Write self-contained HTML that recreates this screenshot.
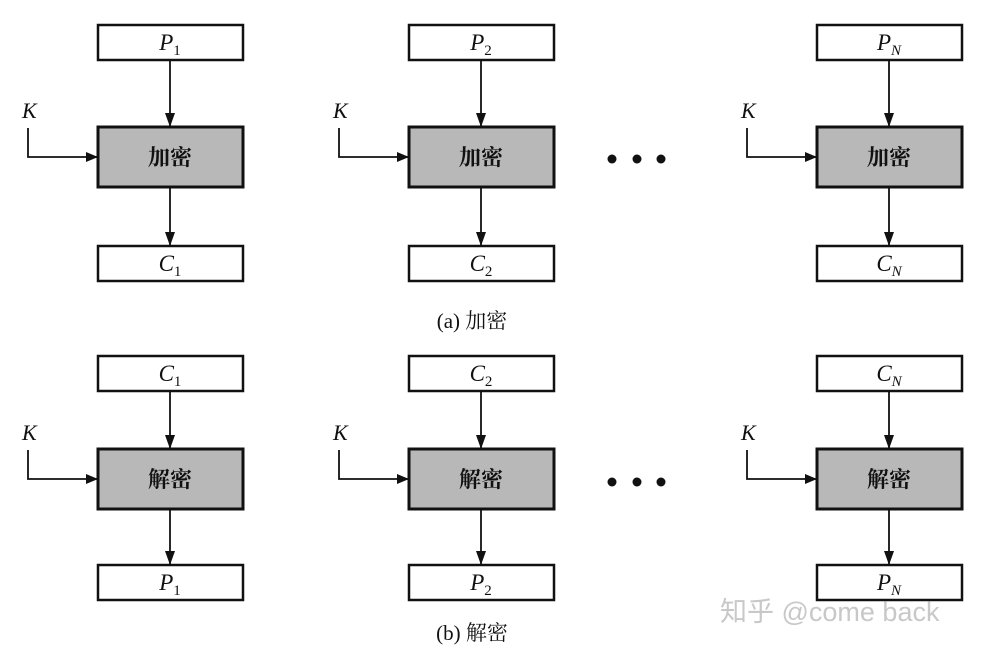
<!DOCTYPE html>
<html><head><meta charset="utf-8"><style>
body{margin:0;background:#fff}
svg text{font-family:"Liberation Serif","Noto Serif CJK SC",serif;fill:#111}
.i{font-style:italic}
</style></head><body>
<svg width="985" height="652" viewBox="0 0 985 652" xmlns="http://www.w3.org/2000/svg">
<defs><marker id="a" markerWidth="12" markerHeight="10" refX="11" refY="5" orient="auto" markerUnits="userSpaceOnUse"><path d="M0,0 L12,5 L0,10 z" fill="#111"/></marker>
<marker id="d" markerWidth="12" markerHeight="14" refX="6" refY="13" orient="0" markerUnits="userSpaceOnUse"><path d="M1,0 L6,14 L11,0 z" fill="#111"/></marker></defs>

<g id="col" stroke="#111" fill="none">
</g>

<!-- Row A -->
<g stroke="#111">
<rect x="98" y="25" width="145" height="35" fill="#fff" stroke-width="2.5"/>
<rect x="98" y="127" width="145" height="60" fill="#b8b8b8" stroke-width="3"/>
<rect x="98" y="246" width="145" height="35" fill="#fff" stroke-width="2.5"/>
<rect x="409" y="25" width="145" height="35" fill="#fff" stroke-width="2.5"/>
<rect x="409" y="127" width="145" height="60" fill="#b8b8b8" stroke-width="3"/>
<rect x="409" y="246" width="145" height="35" fill="#fff" stroke-width="2.5"/>
<rect x="817" y="25" width="145" height="35" fill="#fff" stroke-width="2.5"/>
<rect x="817" y="127" width="145" height="60" fill="#b8b8b8" stroke-width="3"/>
<rect x="817" y="246" width="145" height="35" fill="#fff" stroke-width="2.5"/>

<rect x="98" y="356" width="145" height="35" fill="#fff" stroke-width="2.5"/>
<rect x="98" y="449" width="145" height="60" fill="#b8b8b8" stroke-width="3"/>
<rect x="98" y="565" width="145" height="35" fill="#fff" stroke-width="2.5"/>
<rect x="409" y="356" width="145" height="35" fill="#fff" stroke-width="2.5"/>
<rect x="409" y="449" width="145" height="60" fill="#b8b8b8" stroke-width="3"/>
<rect x="409" y="565" width="145" height="35" fill="#fff" stroke-width="2.5"/>
<rect x="817" y="356" width="145" height="35" fill="#fff" stroke-width="2.5"/>
<rect x="817" y="449" width="145" height="60" fill="#b8b8b8" stroke-width="3"/>
<rect x="817" y="565" width="145" height="35" fill="#fff" stroke-width="2.5"/>

<g stroke-width="1.8" fill="none">
<line x1="170" y1="60" x2="170" y2="126" marker-end="url(#d)"/>
<line x1="170" y1="187" x2="170" y2="245" marker-end="url(#d)"/>
<line x1="481" y1="60" x2="481" y2="126" marker-end="url(#d)"/>
<line x1="481" y1="187" x2="481" y2="245" marker-end="url(#d)"/>
<line x1="889" y1="60" x2="889" y2="126" marker-end="url(#d)"/>
<line x1="889" y1="187" x2="889" y2="245" marker-end="url(#d)"/>
<line x1="170" y1="391" x2="170" y2="448" marker-end="url(#d)"/>
<line x1="170" y1="509" x2="170" y2="564" marker-end="url(#d)"/>
<line x1="481" y1="391" x2="481" y2="448" marker-end="url(#d)"/>
<line x1="481" y1="509" x2="481" y2="564" marker-end="url(#d)"/>
<line x1="889" y1="391" x2="889" y2="448" marker-end="url(#d)"/>
<line x1="889" y1="509" x2="889" y2="564" marker-end="url(#d)"/>
<path d="M28,128 V157 H97" marker-end="url(#a)"/>
<path d="M339,128 V157 H408" marker-end="url(#a)"/>
<path d="M747,128 V157 H816" marker-end="url(#a)"/>
<path d="M28,450 V479 H97" marker-end="url(#a)"/>
<path d="M339,450 V479 H408" marker-end="url(#a)"/>
<path d="M747,450 V479 H816" marker-end="url(#a)"/>
</g>
</g>
<g fill="#111">
<circle cx="612" cy="159" r="4.5"/><circle cx="637" cy="159" r="4.5"/><circle cx="661" cy="159" r="4.5"/>
<circle cx="612" cy="482" r="4.5"/><circle cx="637" cy="482" r="4.5"/><circle cx="661" cy="482" r="4.5"/>
</g>

<g font-size="22" font-style="italic">
<text x="22" y="118">K</text><text x="333" y="118">K</text><text x="741" y="118">K</text>
<text x="22" y="440">K</text><text x="333" y="440">K</text><text x="741" y="440">K</text>
</g>

<g font-size="23" text-anchor="middle">
<text x="170" y="50"><tspan class="i">P</tspan><tspan font-size="15" dy="5">1</tspan></text>
<text x="481" y="50"><tspan class="i">P</tspan><tspan font-size="15" dy="5">2</tspan></text>
<text x="889" y="50"><tspan class="i">P</tspan><tspan font-size="15" dy="5" class="i">N</tspan></text>
<text x="170" y="271"><tspan class="i">C</tspan><tspan font-size="15" dy="5">1</tspan></text>
<text x="481" y="271"><tspan class="i">C</tspan><tspan font-size="15" dy="5">2</tspan></text>
<text x="889" y="271"><tspan class="i">C</tspan><tspan font-size="15" dy="5" class="i">N</tspan></text>
<text x="170" y="381"><tspan class="i">C</tspan><tspan font-size="15" dy="5">1</tspan></text>
<text x="481" y="381"><tspan class="i">C</tspan><tspan font-size="15" dy="5">2</tspan></text>
<text x="889" y="381"><tspan class="i">C</tspan><tspan font-size="15" dy="5" class="i">N</tspan></text>
<text x="170" y="590"><tspan class="i">P</tspan><tspan font-size="15" dy="5">1</tspan></text>
<text x="481" y="590"><tspan class="i">P</tspan><tspan font-size="15" dy="5">2</tspan></text>
<text x="889" y="590"><tspan class="i">P</tspan><tspan font-size="15" dy="5" class="i">N</tspan></text>
</g>

<g font-size="22" font-weight="bold" text-anchor="middle">
<text x="170" y="165">加密</text><text x="481" y="165">加密</text><text x="889" y="165">加密</text>
<text x="170" y="487">解密</text><text x="481" y="487">解密</text><text x="889" y="487">解密</text>
</g>

<text x="472" y="328" font-size="21" text-anchor="middle">(a) 加密</text>
<text x="472" y="640" font-size="21" text-anchor="middle">(b) 解密</text>
<text x="720" y="621" font-size="27" style="fill:#c8c8c8;font-family:'Liberation Sans','Noto Sans CJK SC',sans-serif">知乎 @come back</text>
</svg>
</body></html>
